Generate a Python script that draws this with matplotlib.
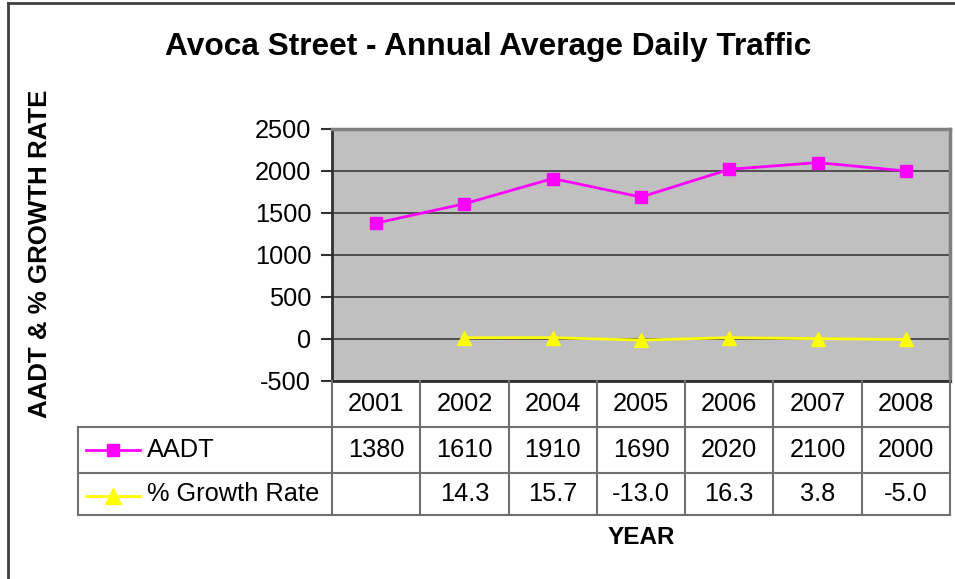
import numpy as np
import matplotlib
matplotlib.use("Agg")
import matplotlib.pyplot as plt
import matplotlib.transforms as mtransforms
from matplotlib.lines import Line2D

plt.rcParams['font.family'] = ['Liberation Sans', 'DejaVu Sans']

years = ["2001", "2002", "2004", "2005", "2006", "2007", "2008"]
aadt = [1380, 1610, 1910, 1690, 2020, 2100, 2000]
growth = [np.nan, 14.3, 15.7, -13.0, 16.3, 3.8, -5.0]
growth_labels = ["", "14.3", "15.7", "-13.0", "16.3", "3.8", "-5.0"]
series_names = ["AADT", "% Growth Rate"]
yticks = [-500, 0, 500, 1000, 1500, 2000, 2500]

W, H = 955, 579
fig = plt.figure(figsize=(W / 100, H / 100), dpi=100)

def fx(px):
    return px / W

def fy(py):
    return 1 - py / H

# plot area
L, R, T, B = 332, 950, 129, 381
ax = fig.add_axes([fx(L), fy(B), fx(R) - fx(L), fy(T) - fy(B)])
ax.set_facecolor('#C0C0C0')
x = np.arange(len(years))
ax.set_xlim(-0.5, len(years) - 0.5)
ax.set_ylim(-500, 2500)
ax.set_yticks(yticks)
ax.set_yticklabels([str(v) for v in yticks])
ax.yaxis.grid(True, color='#303030', linewidth=1.1)
ax.set_axisbelow(True)
ax.set_xticks([])
ax.tick_params(axis='y', length=8, width=1.5, pad=7, labelsize=18.3, color='#303030')
for s in ['top', 'right']:
    ax.spines[s].set_color('#808080')
    ax.spines[s].set_linewidth(2.5)
for s in ['left', 'bottom']:
    ax.spines[s].set_color('#303030')
    ax.spines[s].set_linewidth(2)

ax.plot(x, aadt, color='#FF00FF', linewidth=2, marker='s', markersize=9,
        markerfacecolor='#FF00FF', markeredgecolor='#FF00FF', clip_on=False, zorder=5)
ax.plot(x, growth, color='#FFFF00', linewidth=2, marker='^', markersize=10,
        markerfacecolor='#FFFF00', markeredgecolor='#FFFF00', clip_on=False, zorder=5)

# data table
trans = mtransforms.blended_transform_factory(ax.transData, fig.transFigure)
rows_y = [381, 427, 473, 515]
leg_left = 78
tcol = '#707070'
lw = 1.5
edges = np.arange(len(years) + 1) - 0.5
for e in edges:
    fig.add_artist(Line2D([e, e], [fy(rows_y[0]), fy(rows_y[3])], transform=trans,
                          color=tcol, linewidth=lw))
for ry in rows_y[1:]:
    fig.add_artist(Line2D([fx(leg_left), fx(R)], [fy(ry), fy(ry)],
                          transform=fig.transFigure, color=tcol, linewidth=lw))
fig.add_artist(Line2D([fx(leg_left), fx(leg_left)], [fy(rows_y[1]), fy(rows_y[3])],
                      transform=fig.transFigure, color=tcol, linewidth=lw))

fs = 18.3
for i, yr in enumerate(years):
    fig.text(i, fy(404), yr, transform=trans, ha='center', va='center', fontsize=fs)
    fig.text(i, fy(450), str(aadt[i]), transform=trans, ha='center', va='center', fontsize=fs)
    fig.text(i, fy(494), growth_labels[i], transform=trans, ha='center', va='center', fontsize=fs)

# legend keys
fig.add_artist(Line2D([fx(86), fx(140)], [fy(450), fy(450)], transform=fig.transFigure,
                      color='#FF00FF', linewidth=2))
fig.add_artist(Line2D([fx(113)], [fy(450)], transform=fig.transFigure, color='#FF00FF',
                      marker='s', markersize=9, linestyle='none'))
fig.add_artist(Line2D([fx(86), fx(140)], [fy(496), fy(496)], transform=fig.transFigure,
                      color='#FFFF00', linewidth=2))
fig.add_artist(Line2D([fx(113)], [fy(496)], transform=fig.transFigure, color='#FFFF00',
                      marker='^', markersize=11, linestyle='none'))
fig.text(fx(147), fy(450), series_names[0], ha='left', va='center', fontsize=fs)
fig.text(fx(147), fy(494), series_names[1], ha='left', va='center', fontsize=fs)

# titles
fig.text(fx(488), fy(47), "Avoca Street - Annual Average Daily Traffic", ha='center',
         va='center', fontsize=22.8, fontweight='bold')
fig.text(fx(40), fy(254), "AADT & % GROWTH RATE", ha='center', va='center',
         rotation=90, fontsize=18.6, fontweight='bold')
fig.text(fx(641), fy(538), "YEAR", ha='center', va='center', fontsize=17.5, fontweight='bold')

# chart frame
fig.add_artist(Line2D([fx(8), fx(8)], [0, fy(3)], transform=fig.transFigure,
                      color='#404040', linewidth=2))
fig.add_artist(Line2D([fx(8), 1], [fy(3), fy(3)], transform=fig.transFigure,
                      color='#404040', linewidth=2))

fig.savefig("out.png", dpi=100, facecolor='white')
